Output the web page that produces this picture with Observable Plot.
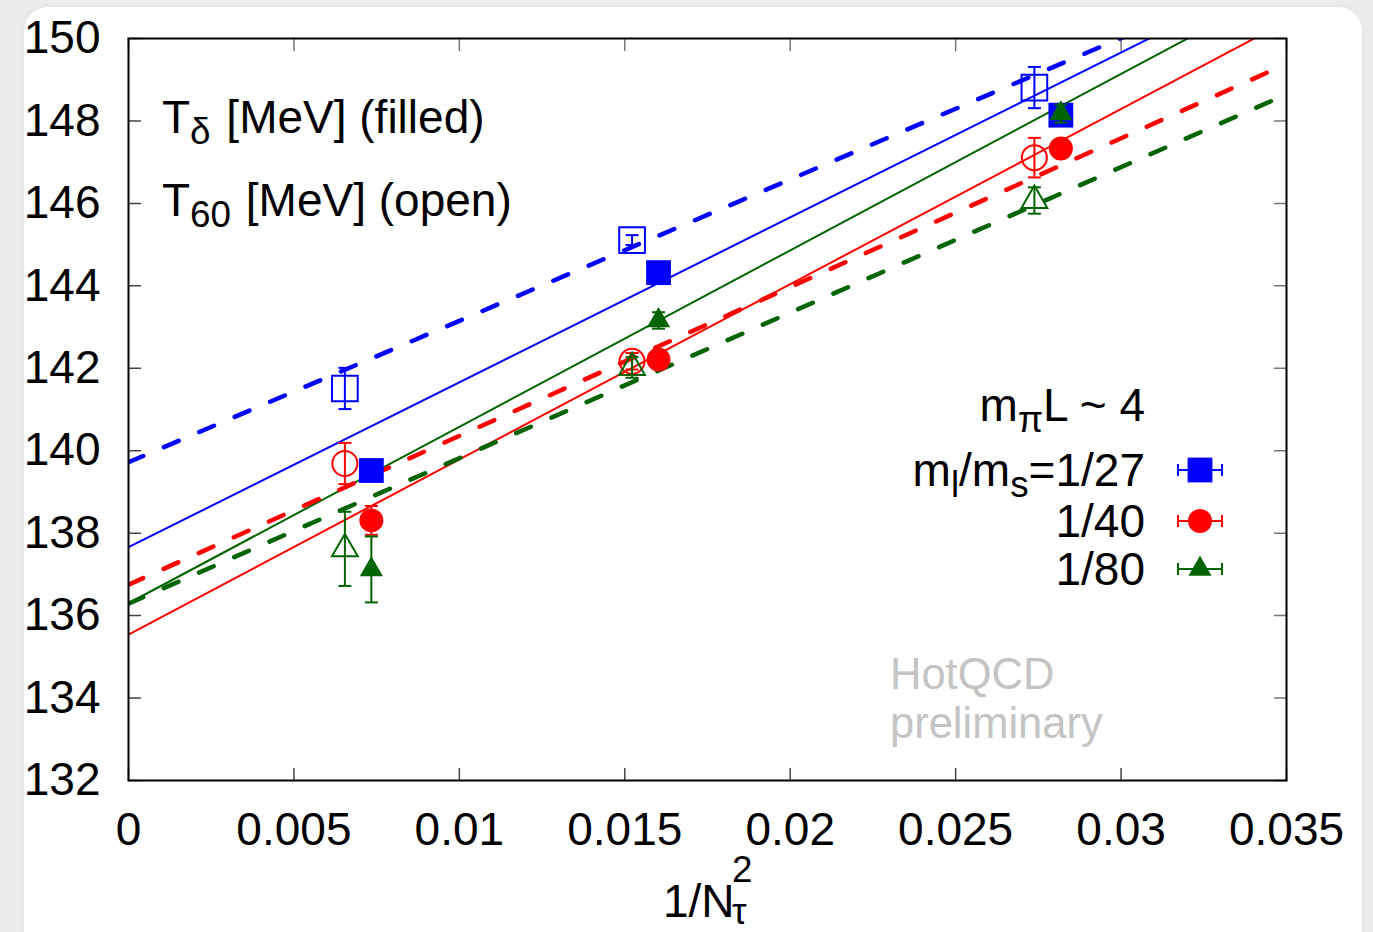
<!DOCTYPE html>
<html>
<head>
<meta charset="utf-8">
<script src="https://cdn.jsdelivr.net/npm/d3@7"></script>
<script src="https://cdn.jsdelivr.net/npm/@observablehq/plot@0.6"></script>
<style>
  body { margin: 0; background: #ffffff; }
  #wrap { position: relative; width: 1373px; height: 932px; background: #ececec; overflow: hidden; }
  #card { position: absolute; left: 24px; top: 7px; width: 1338px; height: 960px; background: #ffffff; border-radius: 24px; box-shadow: 0 0 6px rgba(0,0,0,0.05); }
  #chart { position: absolute; left: 0; top: 0; }
</style>
</head>
<body>
<div id="wrap"><div id="card"></div><div id="chart"></div></div>
<script>
// ---------- data ----------
const xDomain = [0, 0.035];
const yDomain = [132, 150];
const xTicks = [0, 0.005, 0.01, 0.015, 0.02, 0.025, 0.03, 0.035];
const xTickLabels = ["0", "0.005", "0.01", "0.015", "0.02", "0.025", "0.03", "0.035"];
const yTicks = [132, 134, 136, 138, 140, 142, 144, 146, 148, 150];
const yTickLabels = ["132", "134", "136", "138", "140", "142", "144", "146", "148", "150"];

const series = ["1/27", "1/40", "1/80"];
const colors = ["#0000ff", "#ff0000", "#006400"];

// x positions (1/Nτ², slightly shifted for filled / open)
const xFilled = [0.00734, 0.01602, 0.02818];
const xOpen   = [0.00654, 0.01522, 0.02738];

// T_delta (filled)
const tDelta27 = [139.52, 144.32, 148.14];
const tDelta27Err = [0.15, 0.15, 0.15];
const tDelta40 = [138.31, 142.21, 147.33];
const tDelta40Err = [0.35, 0.2, 0.2];
const tDelta80 = [137.12, 143.16, 148.18];
const tDelta80Err = [0.8, 0.2, 0.22];

// T_60 (open)
const t6027 = [141.51, 145.11, 148.81];
const t6027Err = [0.5, 0.12, 0.5];
const t6040 = [139.69, 142.17, 147.11];
const t6040Err = [0.5, 0.2, 0.48];
const t6080 = [137.62, 142.02, 146.07];
const t6080Err = [0.9, 0.25, 0.32];

// linear fits a + b / Nτ²
const fitDeltaIntercept = [137.66, 135.54, 136.30];
const fitDeltaSlope     = [400, 425, 428];
const fit60Intercept    = [139.72, 136.75, 136.29];
const fit60Slope        = [343, 361, 353];

// ---------- build tables ----------
const deltaVals = [tDelta27, tDelta40, tDelta80];
const deltaErrs = [tDelta27Err, tDelta40Err, tDelta80Err];
const t60Vals = [t6027, t6040, t6080];
const t60Errs = [t6027Err, t6040Err, t6080Err];

const filledRows = [], openRows = [];
series.forEach((s, i) => {
  xFilled.forEach((x, j) => filledRows.push({series: s, si: i, x, y: deltaVals[i][j], err: deltaErrs[i][j]}));
  xOpen.forEach((x, j) => openRows.push({series: s, si: i, x, y: t60Vals[i][j], err: t60Errs[i][j]}));
});
const lineRows = [];
series.forEach((s, i) => {
  for (const x of xDomain) {
    lineRows.push({series: s, kind: "delta", x, y: fitDeltaIntercept[i] + fitDeltaSlope[i] * x});
    lineRows.push({series: s, kind: "t60", x, y: fit60Intercept[i] + fit60Slope[i] * x});
  }
});

const FONT = "'Liberation Sans', Arial, Helvetica, sans-serif";
const FS = 46;

const capSymbol = {draw(ctx, size) { const r = Math.sqrt(size / Math.PI); ctx.moveTo(-r, 0); ctx.lineTo(r, 0); }};
const tickShape = {draw(ctx, l) { ctx.moveTo(0, 0); ctx.lineTo(0, -l); }};
const symbolsAll = [d3.symbolSquare, d3.symbolCircle, d3.symbolTriangle];
const rFilled = [14, 12, 8.6];
const rOpen = [14.5, 12.5, 9.6];

const marks = [];
// inward ticks on all four sides
marks.push(Plot.vector(yTicks, {y: d => d, frameAnchor: "left", rotate: 90, length: 12, anchor: "start", shape: tickShape, stroke: "#444", strokeWidth: 1.5}));
marks.push(Plot.vector(yTicks, {y: d => d, frameAnchor: "right", rotate: -90, length: 12, anchor: "start", shape: tickShape, stroke: "#777", strokeWidth: 1.5}));
marks.push(Plot.vector(xTicks, {x: d => d, frameAnchor: "bottom", rotate: 0, length: 12, anchor: "start", shape: tickShape, stroke: "#444", strokeWidth: 1.5}));
marks.push(Plot.vector(xTicks, {x: d => d, frameAnchor: "top", rotate: 180, length: 12, anchor: "start", shape: tickShape, stroke: "#777", strokeWidth: 1.5}));

// fit lines
marks.push(Plot.line(lineRows.filter(d => d.kind === "delta"), {x: "x", y: "y", z: "series", stroke: "series", strokeWidth: 2, clip: true}));
marks.push(Plot.line(lineRows.filter(d => d.kind === "t60"), {x: "x", y: "y", z: "series", stroke: "series", strokeWidth: 4.5, strokeDasharray: "16,22.5", clip: true}));

// error bars and markers
series.forEach((s, i) => {
  const f = filledRows.filter(d => d.si === i);
  const o = openRows.filter(d => d.si === i);
  for (const rows of [o, f]) {
    marks.push(Plot.ruleX(rows, {x: "x", y1: d => d.y - d.err, y2: d => d.y + d.err, stroke: colors[i], strokeWidth: 2}));
    const caps = rows.flatMap(d => [{x: d.x, y: d.y - d.err}, {x: d.x, y: d.y + d.err}]);
    marks.push(Plot.dot(caps, {x: "x", y: "y", symbol: capSymbol, r: 6.5, fill: "none", stroke: colors[i], strokeWidth: 2}));
  }
  marks.push(Plot.dot(o, {x: "x", y: "y", symbol: symbolsAll[i], r: rOpen[i], fill: "none", stroke: colors[i], strokeWidth: 2}));
  marks.push(Plot.dot(f, {x: "x", y: "y", symbol: symbolsAll[i], r: rFilled[i], fill: colors[i], stroke: "none"}));
});

// axes and frame
marks.push(Plot.axisX({ticks: xTicks, tickSize: 0, tickPadding: 32, fontSize: FS, label: null,
  tickFormat: d => xTickLabels[xTicks.indexOf(d)]}));
marks.push(Plot.axisY({ticks: yTicks, tickSize: 0, tickPadding: 28, fontSize: FS, label: null,
  tickFormat: d => yTickLabels[yTicks.indexOf(d)]}));
marks.push(Plot.frame({stroke: "#000", strokeWidth: 2}));

const chart = Plot.plot({
  width: 1373,
  height: 932,
  marginLeft: 128,
  marginRight: 87,
  marginTop: 38,
  marginBottom: 152,
  x: {domain: xDomain},
  y: {domain: yDomain},
  color: {domain: series, range: colors},
  style: {background: "transparent", fontFamily: FONT, fontSize: FS + "px", color: "#000", overflow: "visible"},
  marks
});
document.getElementById("chart").appendChild(chart);

// ---------- annotations (text) ----------
const svg = d3.select(chart);
const ann = svg.append("g").attr("font-family", FONT).attr("font-size", FS).attr("text-anchor", "start");
const SUB = FS * 0.8;

function addText(x, y, parts, anchor = "start", fill = "#000", size = FS) {
  const t = ann.append("text").attr("x", x).attr("y", y).attr("text-anchor", anchor).attr("fill", fill).attr("font-size", size);
  let shift = 0;
  for (const p of parts) {
    const target = p.sub ? 11 : p.sup ? -17 : 0;
    const ts = t.append("tspan").text(p.t).attr("dy", target - shift);
    if (p.sub || p.sup) ts.attr("font-size", SUB);
    if (p.dx) ts.attr("dx", p.dx);
    shift = target;
  }
  return t;
}

addText(162, 133, [{t: "T"}, {t: "δ", sub: true}, {t: " [MeV] (filled)", dx: 3}]);
addText(162, 216, [{t: "T"}, {t: "60", sub: true}, {t: " [MeV] (open)", dx: 2}]);

// legend
addText(1145, 421, [{t: "m"}, {t: "π", sub: true}, {t: "L ~ 4"}], "end");
addText(1145, 486, [{t: "m"}, {t: "l", sub: true}, {t: "/m"}, {t: "s", sub: true}, {t: "=1/27"}], "end");
addText(1145, 537, [{t: "1/40"}], "end");
addText(1145, 585, [{t: "1/80"}], "end");

const legendY = [470, 521, 569];
series.forEach((s, i) => {
  const g = ann.append("g").attr("transform", `translate(1200,${legendY[i]})`);
  g.append("path").attr("d", "M-22,0H22M-22,-6V6M22,-6V6").attr("stroke", colors[i]).attr("stroke-width", 2).attr("fill", "none");
  g.append("path").attr("d", d3.symbol(symbolsAll[i], Math.PI * rFilled[i] * rFilled[i])()).attr("fill", colors[i]);
});

// watermark (one text, two lines)
const wm = ann.append("text").attr("x", 890).attr("y", 689).attr("fill", "#c4c4c4").attr("font-size", 43.5).attr("text-anchor", "start");
wm.append("tspan").attr("x", 890).text("HotQCD");
wm.append("tspan").attr("x", 890).attr("dy", 48.5).text("preliminary");

// x axis label 1/Nτ² (one text, stacked super/subscript)
const xl = ann.append("text").attr("x", 663).attr("y", 917).attr("text-anchor", "start");
xl.append("tspan").text("1/N");
xl.append("tspan").attr("x", 732).attr("dy", -35).attr("font-size", SUB).text("2");
xl.append("tspan").attr("x", 732).attr("dy", 42).attr("font-size", SUB).text("τ");
</script>
</body>
</html>
